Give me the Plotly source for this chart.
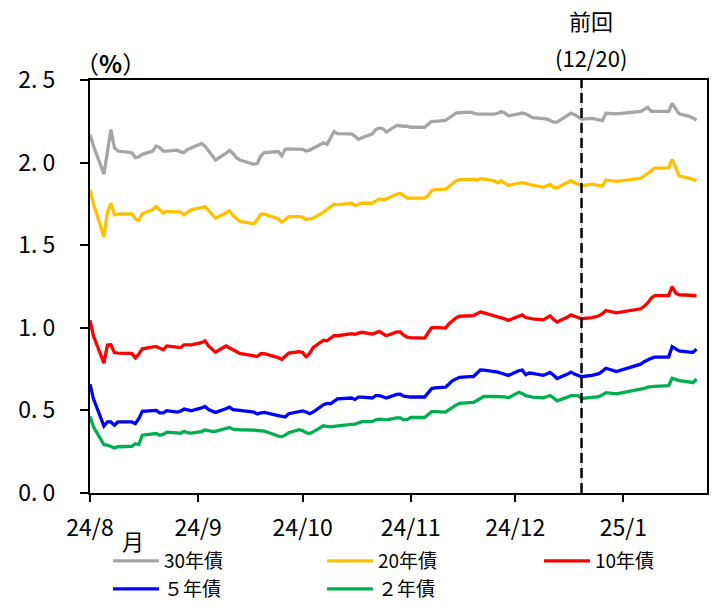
import plotly.graph_objects as go

# ---- business days (Japan) per month ----
AUG = [1, 2, 5, 6, 7, 8, 9, 13, 14, 15, 16, 19, 20, 21, 22, 23, 26, 27, 28, 29, 30]
SEP = [2, 3, 4, 5, 6, 9, 10, 11, 12, 13, 17, 18, 19, 20, 24, 25, 26, 27, 30]
OCT = [1, 2, 3, 4, 7, 8, 9, 10, 11, 15, 16, 17, 18, 21, 22, 23, 24, 25, 28, 29, 30, 31]
NOV = [1, 5, 6, 7, 8, 11, 12, 13, 14, 15, 18, 19, 20, 21, 22, 25, 26, 27, 28, 29]
DEC = [2, 3, 4, 5, 6, 9, 10, 11, 12, 13, 16, 17, 18, 19, 20, 23, 24, 25, 26, 27, 30]
JAN = [6, 7, 8, 9, 10, 14, 15, 16, 17, 20, 21, 22]

Y30 = [2.17, 2.10, 1.93, 2.06, 2.20, 2.09, 2.07, 2.06, 2.03, 2.035, 2.05, 2.07, 2.10, 2.09, 2.07, 2.07, 2.075, 2.065, 2.06, 2.08, 2.09,
       2.115, 2.10, 2.07, 2.04, 2.016, 2.055, 2.073, 2.055, 2.03, 2.016, 1.99, 1.995, 2.04, 2.061, 2.067, 2.041, 2.08, 2.083, 2.083,
       2.08, 2.07, 2.075, 2.087, 2.12, 2.11, 2.15, 2.188, 2.175, 2.174, 2.16, 2.14, 2.15, 2.174, 2.20, 2.21, 2.205, 2.185, 2.225, 2.22, 2.22, 2.22,
       2.214, 2.214, 2.23, 2.25, 2.25, 2.256, 2.27, 2.285, 2.30, 2.303, 2.305, 2.30, 2.293, 2.293, 2.293, 2.293, 2.30, 2.309, 2.30, 2.283,
       2.295, 2.30, 2.295, 2.283, 2.272, 2.266, 2.264, 2.255, 2.245, 2.245, 2.285, 2.299, 2.29, 2.275, 2.263, 2.268, 2.262, 2.256, 2.254, 2.299, 2.295,
       2.31, 2.325, 2.335, 2.31, 2.309, 2.31, 2.359, 2.33, 2.295, 2.28, 2.27, 2.258]

Y20 = [1.835, 1.75, 1.55, 1.70, 1.754, 1.684, 1.688, 1.69, 1.66, 1.65, 1.69, 1.715, 1.734, 1.715, 1.694, 1.705, 1.70, 1.70, 1.684, 1.70, 1.714,
       1.728, 1.734, 1.71, 1.685, 1.664, 1.695, 1.708, 1.68, 1.66, 1.645, 1.63, 1.655, 1.688, 1.688, 1.66, 1.64, 1.655, 1.673, 1.673,
       1.67, 1.655, 1.658, 1.664, 1.70, 1.715, 1.73, 1.748, 1.746, 1.754, 1.74, 1.745, 1.754, 1.754, 1.765, 1.78, 1.775, 1.78, 1.81, 1.813, 1.80, 1.785,
       1.785, 1.785, 1.80, 1.83, 1.836, 1.839, 1.855, 1.875, 1.89, 1.897, 1.90, 1.898, 1.895, 1.903, 1.90, 1.889, 1.878, 1.89, 1.875, 1.862,
       1.875, 1.879, 1.874, 1.868, 1.863, 1.851, 1.862, 1.868, 1.85, 1.848, 1.88, 1.891, 1.88, 1.87, 1.859, 1.869, 1.865, 1.858, 1.858, 1.895, 1.886,
       1.905, 1.92, 1.94, 1.955, 1.966, 1.966, 2.02, 1.97, 1.92, 1.905, 1.898, 1.891]

Y10 = [1.045, 0.95, 0.786, 0.895, 0.897, 0.85, 0.847, 0.845, 0.818, 0.84, 0.873, 0.882, 0.887, 0.877, 0.867, 0.89, 0.883, 0.88, 0.897, 0.895, 0.897,
       0.91, 0.921, 0.89, 0.87, 0.852, 0.89, 0.88, 0.865, 0.858, 0.845, 0.83, 0.826, 0.843, 0.843, 0.82, 0.808, 0.828, 0.847, 0.855,
       0.85, 0.825, 0.845, 0.88, 0.925, 0.921, 0.937, 0.952, 0.952, 0.965, 0.96, 0.965, 0.973, 0.962, 0.97, 0.978, 0.965, 0.952, 0.975, 0.975, 0.955, 0.944,
       0.94, 0.938, 0.97, 1.0, 1.003, 0.998, 1.025, 1.045, 1.06, 1.07, 1.074, 1.074, 1.085, 1.095, 1.09, 1.075, 1.07, 1.06, 1.054, 1.045,
       1.07, 1.078, 1.062, 1.058, 1.054, 1.048, 1.062, 1.072, 1.05, 1.035, 1.065, 1.078, 1.07, 1.06, 1.055, 1.062, 1.066, 1.073, 1.085, 1.105, 1.09,
       1.115, 1.13, 1.15, 1.18, 1.195, 1.195, 1.25, 1.21, 1.20, 1.197, 1.195, 1.194]

Y5 = [0.659, 0.57, 0.405, 0.43, 0.43, 0.41, 0.43, 0.43, 0.42, 0.45, 0.494, 0.502, 0.50, 0.485, 0.485, 0.498, 0.49, 0.495, 0.508, 0.503, 0.498,
      0.515, 0.524, 0.505, 0.495, 0.488, 0.51, 0.52, 0.505, 0.50, 0.50, 0.49, 0.478, 0.485, 0.488, 0.468, 0.462, 0.46, 0.48, 0.495,
      0.497, 0.49, 0.48, 0.49, 0.535, 0.542, 0.54, 0.555, 0.57, 0.575, 0.566, 0.58, 0.58, 0.575, 0.59, 0.59, 0.582, 0.575, 0.597, 0.598, 0.586, 0.581,
      0.581, 0.581, 0.605, 0.632, 0.636, 0.641, 0.66, 0.68, 0.69, 0.70, 0.704, 0.705, 0.725, 0.745, 0.744, 0.737, 0.732, 0.725, 0.718, 0.712,
      0.74, 0.744, 0.716, 0.726, 0.724, 0.712, 0.72, 0.73, 0.713, 0.693, 0.72, 0.732, 0.72, 0.71, 0.704, 0.712, 0.716, 0.722, 0.738, 0.755, 0.735,
      0.78, 0.795, 0.807, 0.815, 0.823, 0.823, 0.886, 0.87, 0.86, 0.853, 0.852, 0.871]

Y2 = [0.463, 0.40, 0.292, 0.29, 0.282, 0.273, 0.28, 0.283, 0.298, 0.293, 0.35, 0.36, 0.36, 0.35, 0.355, 0.368, 0.36, 0.362, 0.373, 0.365, 0.363,
      0.372, 0.382, 0.376, 0.373, 0.373, 0.39, 0.397, 0.386, 0.383, 0.383, 0.38, 0.377, 0.376, 0.375, 0.345, 0.34, 0.35, 0.365, 0.383,
      0.378, 0.365, 0.36, 0.37, 0.407, 0.404, 0.40, 0.404, 0.407, 0.416, 0.417, 0.425, 0.432, 0.433, 0.443, 0.447, 0.445, 0.443, 0.455, 0.455, 0.443, 0.445,
      0.457, 0.457, 0.475, 0.492, 0.493, 0.49, 0.505, 0.52, 0.532, 0.542, 0.547, 0.549, 0.56, 0.575, 0.584, 0.584, 0.584, 0.584, 0.582, 0.576,
      0.61, 0.602, 0.589, 0.585, 0.58, 0.576, 0.583, 0.59, 0.575, 0.558, 0.58, 0.59, 0.59, 0.59, 0.572, 0.578, 0.581, 0.584, 0.594, 0.607, 0.60,
      0.625, 0.633, 0.641, 0.644, 0.645, 0.65, 0.695, 0.688, 0.68, 0.672, 0.668, 0.69]

SERIES_NAMES = ["30年債", "20年債", "10年債", "５年債", "２年債"]
SERIES_COLORS = ["#A5A5A5", "#FFC000", "#FF0000", "#0000FF", "#00B050"]

TICK_DATES = ["2024-08-01", "2024-09-01", "2024-10-01", "2024-11-01", "2024-12-01", "2025-01-01"]
TICK_LABELS = ["24/8", "24/9", "24/10", "24/11", "24/12", "25/1"]
Y_TICKS = [0, 0.5, 1.0, 1.5, 2.0, 2.5]
Y_LABELS = ["0. 0", "0. 5", "1. 0", "1. 5", "2. 0", "2. 5"]
PREV_DATE = "2024-12-20"

# ---- build dates ----
dates = []
for (yr, mo, days) in [(2024, 8, AUG), (2024, 9, SEP), (2024, 10, OCT), (2024, 11, NOV), (2024, 12, DEC), (2025, 1, JAN)]:
    for d in days:
        dates.append(f"{yr}-{mo:02d}-{d:02d}")

FONT = "Noto Sans CJK JP"
W, H = 720, 605
L, R, T, B = 90, 13, 80, 112
PW, PH = W - L - R, H - T - B


def px(x):
    return (x - L) / PW


def py(y):
    return (H - B - y) / PH


fig = go.Figure()
legend_pos = [(108, 561), (322, 561), (539, 561), (108, 589), (322, 589)]
legend_ids = ["legend", "legend2", "legend3", "legend4", "legend5"]
for i, (name, vals, col) in enumerate(zip(SERIES_NAMES, [Y30, Y20, Y10, Y5, Y2], SERIES_COLORS)):
    fig.add_trace(go.Scatter(x=dates, y=vals, mode="lines", name=name,
                             line=dict(color=col, width=3.3),
                             legend=legend_ids[i]))

leg_common = dict(orientation="v", bgcolor="rgba(0,0,0,0)", borderwidth=0,
                  font=dict(family=FONT, size=19, color="black"),
                  itemwidth=46, xanchor="left", yanchor="middle",
                  tracegroupgap=0)
layout_legends = {}
for lid, (lx, ly) in zip(legend_ids, legend_pos):
    layout_legends[lid] = dict(x=px(lx), y=py(ly), **leg_common)

fig.update_layout(
    template="none",
    width=W, height=H,
    margin=dict(l=L, r=R, t=T, b=B, autoexpand=False),
    paper_bgcolor="white", plot_bgcolor="white",
    font=dict(family=FONT, size=22, color="black"),
    showlegend=True,
    **layout_legends,
    xaxis=dict(type="date", range=["2024-08-01", "2025-01-25"], automargin=False,
               tickmode="array", tickvals=TICK_DATES, ticktext=TICK_LABELS,
               ticks="outside", ticklen=7, tickwidth=2, tickcolor="black",
               showline=True, linecolor="black", linewidth=2, mirror=True,
               showgrid=False, zeroline=False, ticklabelstandoff=6,
               tickfont=dict(family=FONT, size=23, color="black")),
    yaxis=dict(range=[0, 2.5], tickmode="array", tickvals=Y_TICKS, ticktext=Y_LABELS,
               automargin=False,
               ticks="outside", ticklen=8, tickwidth=2, tickcolor="black",
               showline=True, linecolor="black", linewidth=2, mirror=True,
               showgrid=False, zeroline=False, ticklabelstandoff=20,
               tickfont=dict(family=FONT, size=23, color="black")),
)

fig.add_shape(type="line", xref="x", yref="paper", x0=PREV_DATE, x1=PREV_DATE, y0=0, y1=1,
              line=dict(color="#BFBFBF", width=1), layer="below")
fig.add_shape(type="line", xref="x", yref="paper", x0=PREV_DATE, x1=PREV_DATE, y0=0, y1=1,
              line=dict(color="black", width=2.5, dash="10px,5px"), layer="above")

ann = dict(xref="paper", yref="paper", showarrow=False, font=dict(family=FONT, size=22, color="black"))
fig.add_annotation(text="（<b>%</b>）", x=px(73), y=py(62), xanchor="left", yanchor="middle",
                   xref="paper", yref="paper", showarrow=False, font=dict(family=FONT, size=24, color="black"))
fig.add_annotation(text="前回", x=px(591), y=py(20), xanchor="center", yanchor="middle", **ann)
fig.add_annotation(text="(12/20)", x=px(591), y=py(57), xanchor="center", yanchor="middle", **ann)
fig.add_annotation(text="月", x=px(133), y=py(540), xanchor="center", yanchor="middle", **ann)

fig.write_html("out.html", config={"displayModeBar": False},
               post_script="document.body.style.margin='0';document.body.style.overflow='hidden';")
